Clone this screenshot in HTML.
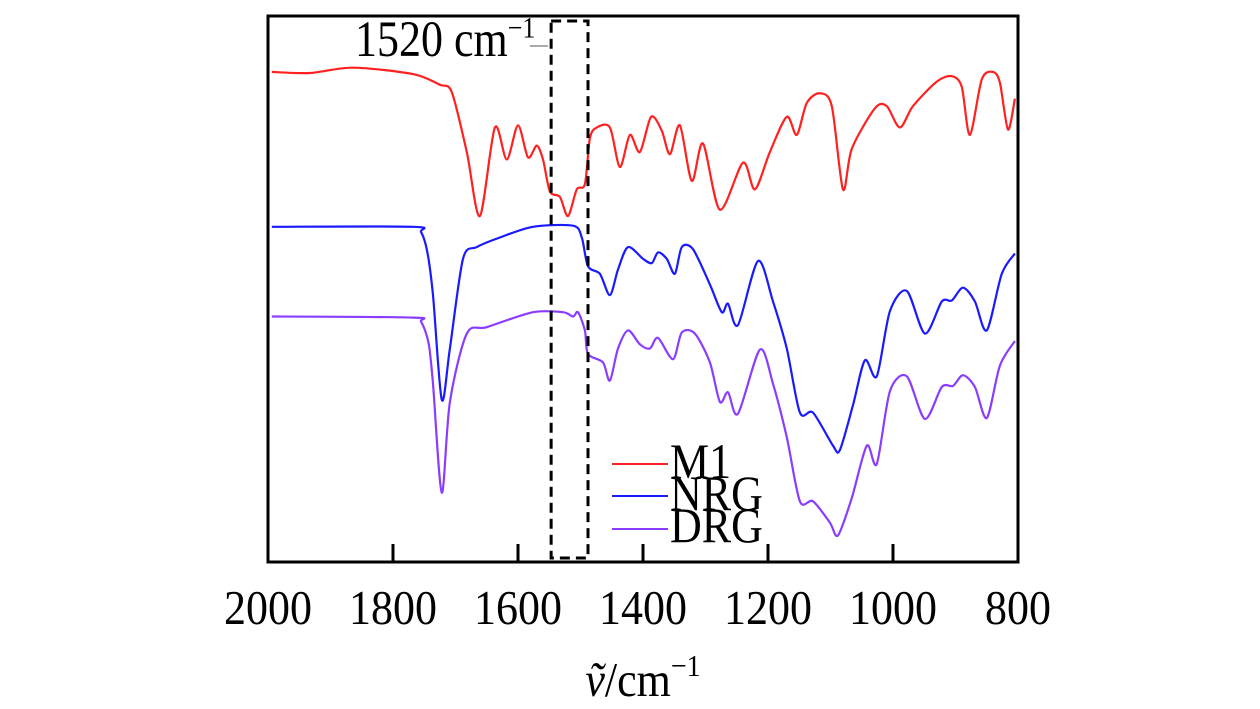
<!DOCTYPE html>
<html><head><meta charset="utf-8"><style>
html,body{margin:0;padding:0;background:#fff;}
svg{display:block;font-family:"Liberation Serif","DejaVu Serif",serif;}
</style></head><body>
<svg id="chart" width="1260" height="709" viewBox="0 0 1260 709" xmlns="http://www.w3.org/2000/svg">
<rect x="0" y="0" width="1260" height="709" fill="#fff"/>
<g id="series"></g>
<g id="ticks"></g>
<rect x="268" y="16" width="750" height="546" fill="none" stroke="#000" stroke-width="3"/>
<rect id="hl" y="21" height="537" fill="none" stroke="#000" stroke-width="3" stroke-dasharray="10,6"/>
<line x1="530" y1="46" x2="548" y2="46" stroke="#aaa" stroke-width="2"/>
<text transform="translate(355,56) scale(1,1.15)" x="0" y="0" font-size="44">1520 cm<tspan font-size="26" dy="-16">−1</tspan></text>
<g id="legend">
<line x1="612" y1="464" x2="668" y2="464" stroke="#ff2020" stroke-width="2"/>
<text transform="translate(670,478) scale(1,1.12)" font-size="44">M1</text>
<line x1="612" y1="496" x2="668" y2="496" stroke="#1a1aff" stroke-width="2"/>
<text transform="translate(670,510) scale(1,1.12)" font-size="44">NRG</text>
<line x1="612" y1="529" x2="668" y2="529" stroke="#8a3cff" stroke-width="2"/>
<text transform="translate(670,542) scale(1,1.12)" font-size="44">DRG</text>
</g>
<text transform="translate(643,696) scale(1,1.1)" font-size="44" text-anchor="middle"><tspan font-style="italic">ṽ</tspan>/cm<tspan font-size="28" dy="-18">−1</tspan></text>
</svg>
<script>
const xTicks = [2000, 1800, 1600, 1400, 1200, 1000, 800];
const highlightRange = [1547, 1488];
const m1X = [1994,1933,1864,1768,1725,1706,1682,1661,1637,1618,1600,1584,1570,1560,1549,1533,1520,1506,1493,1485,1474,1453,1437,1421,1405,1387,1370,1357,1341,1322,1304,1277,1240,1221,1197,1170,1154,1138,1117,1098,1080,1066,1029,1010,989,968,930,906,890,877,858,840,829,816,805];
const m1Y = [494,493,498,492,482,475,419,359,442,412,444,414,425,412,382,377,359,384,389,432,442,442,405,435,419,452,439,417,444,392,427,365,409,384,419,452,435,465,474,462,384,422,460,462,442,462,485,490,480,435,487,494,484,440,469];
const nrgX = [1994,1768,1755,1745,1736,1722,1709,1688,1666,1629,1576,1512,1498,1488,1469,1453,1440,1424,1400,1386,1376,1362,1349,1338,1320,1293,1274,1264,1248,1216,1192,1170,1149,1128,1096,1085,1064,1045,1026,1005,978,949,922,906,888,869,850,826,805];
const nrgY = [349,349,344,325,285,187,235,319,330,339,349,350,339,312,305,285,309,330,319,315,325,319,305,330,328,295,269,277,257,317,279,235,175,175,144,140,182,224,209,270,289,249,279,280,292,279,252,305,324];
const drgX = [1994,1768,1755,1743,1736,1722,1709,1682,1650,1576,1528,1512,1504,1493,1488,1464,1453,1440,1424,1405,1389,1376,1352,1338,1317,1293,1277,1264,1248,1213,1192,1170,1149,1128,1101,1088,1066,1042,1026,1005,978,949,922,904,888,869,850,829,805];
const drgY = [265,264,260,240,202,100,185,249,255,269,269,265,269,252,230,222,205,235,252,239,235,245,225,250,249,222,185,194,174,234,202,152,92,92,72,60,95,144,127,195,209,169,199,200,210,199,170,219,242];

const X0 = 268, X1 = 1018, V0 = 2000, V1 = 800;
function xs(v){ return X0 + (V0 - v) * (X1 - X0) / (V0 - V1); }
function ys(a){ return 599.5 - a * (589.5 / 552); }

function smoothPath(xv, yv){
  const p = xv.map((v,i)=>[xs(v), ys(yv[i])]);
  let d = 'M' + p[0][0].toFixed(1) + ',' + p[0][1].toFixed(1);
  const k = 7;
  for (let i=0;i<p.length-1;i++){
    const a=p[i-1]||p[i], b=p[i], c=p[i+1], e=p[i+2]||c;
    const c1=[b[0]+(c[0]-a[0])/k, b[1]+(c[1]-a[1])/k];
    const c2=[c[0]-(e[0]-b[0])/k, c[1]-(e[1]-b[1])/k];
    d += 'C'+c1[0].toFixed(1)+','+c1[1].toFixed(1)+' '+c2[0].toFixed(1)+','+c2[1].toFixed(1)+' '+c[0].toFixed(1)+','+c[1].toFixed(1);
  }
  return d;
}
const NS='http://www.w3.org/2000/svg';
const sg=document.getElementById('series');
function addLine(xv,yv,color,name){
  const el=document.createElementNS(NS,'path');
  el.setAttribute('d',smoothPath(xv,yv));
  el.setAttribute('fill','none');
  el.setAttribute('stroke',color);
  el.setAttribute('stroke-width','2.2');
  el.setAttribute('stroke-linejoin','round');
  
  
  sg.appendChild(el);
}
addLine(m1X,m1Y,'#ff2020','series-m1');
addLine(nrgX,nrgY,'#1a1aff','series-nrg');
addLine(drgX,drgY,'#8a3cff','series-drg');

const hl=document.getElementById('hl');
hl.setAttribute('x', xs(highlightRange[0]));
hl.setAttribute('width', xs(highlightRange[1]) - xs(highlightRange[0]));

const tg=document.getElementById('ticks');
xTicks.forEach(t=>{
  const x=xs(t);
  if (t!==V0 && t!==V1){
    const ln=document.createElementNS(NS,'line');
    ln.setAttribute('x1',x); ln.setAttribute('x2',x);
    ln.setAttribute('y1',544); ln.setAttribute('y2',562);
    ln.setAttribute('stroke','#000'); ln.setAttribute('stroke-width','3');
    
    
    tg.appendChild(ln);
  }
  const tx=document.createElementNS(NS,'text');
  tx.setAttribute('transform','translate('+x+',624) scale(1,1.1)');
  tx.setAttribute('font-size','44'); tx.setAttribute('text-anchor','middle');
  tx.textContent=t;
  
  
  tg.appendChild(tx);
});
</script>
</body></html>
